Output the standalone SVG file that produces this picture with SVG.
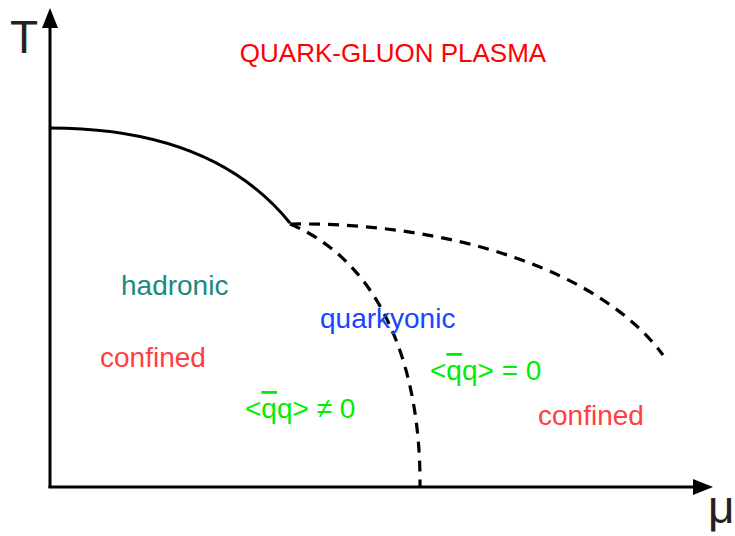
<svg xmlns="http://www.w3.org/2000/svg" width="735" height="536" viewBox="0 0 735 536">
<style>
text{font-family:"Liberation Sans",Arial,sans-serif}
.lbl{font-size:28px}
.axis{stroke:#000;stroke-width:3;fill:none}
.dash{stroke:#000;stroke-width:3.2;fill:none;stroke-dasharray:11 8}
.ob{text-decoration:overline}
.g{fill:#00ee00}
.r{fill:#ff4040}
</style>
<rect width="735" height="536" fill="#fff"/>
<g id="connectors">
<line class="axis" x1="50" y1="488" x2="50" y2="28"/>
<polygon points="50,8 42,28 58,28" fill="#000"/>
<line class="axis" x1="48.5" y1="487" x2="693" y2="487"/>
<polygon points="713,487 693,479 693,495" fill="#000"/>
<path class="axis" d="M50,128 C150,128 235,155 290,223"/>
<path class="dash" d="M290,224 C450,222 600,270 663,355"/>
<path class="dash" d="M290,224 C383,263 421,370 420,487"/>
</g>
<g id="axis-labels">
<text x="10" y="53" font-size="46" fill="#222">T</text>
<text x="708" y="523" font-size="46" fill="#222">μ</text>
</g>
<g id="qgp"><text x="393" y="62" font-size="26" fill="#ff0000" text-anchor="middle">QUARK-GLUON PLASMA</text></g>
<g id="hadronic"><text x="121" y="295" class="lbl" fill="#1a8a80">hadronic</text></g>
<g id="confined1"><text x="100" y="367" class="lbl r">confined</text></g>
<g id="quarkyonic"><text x="320" y="328" class="lbl" fill="#1a44ff">quarkyonic</text></g>
<g id="cond0"><text x="430" y="380" class="lbl g">&lt;<tspan class="ob">q</tspan>q&gt; = 0</text></g>
<g id="condne"><text x="245" y="418" class="lbl g">&lt;<tspan class="ob">q</tspan>q&gt; ≠ 0</text></g>
<g id="confined2"><text x="538" y="425" class="lbl r">confined</text></g>
</svg>
